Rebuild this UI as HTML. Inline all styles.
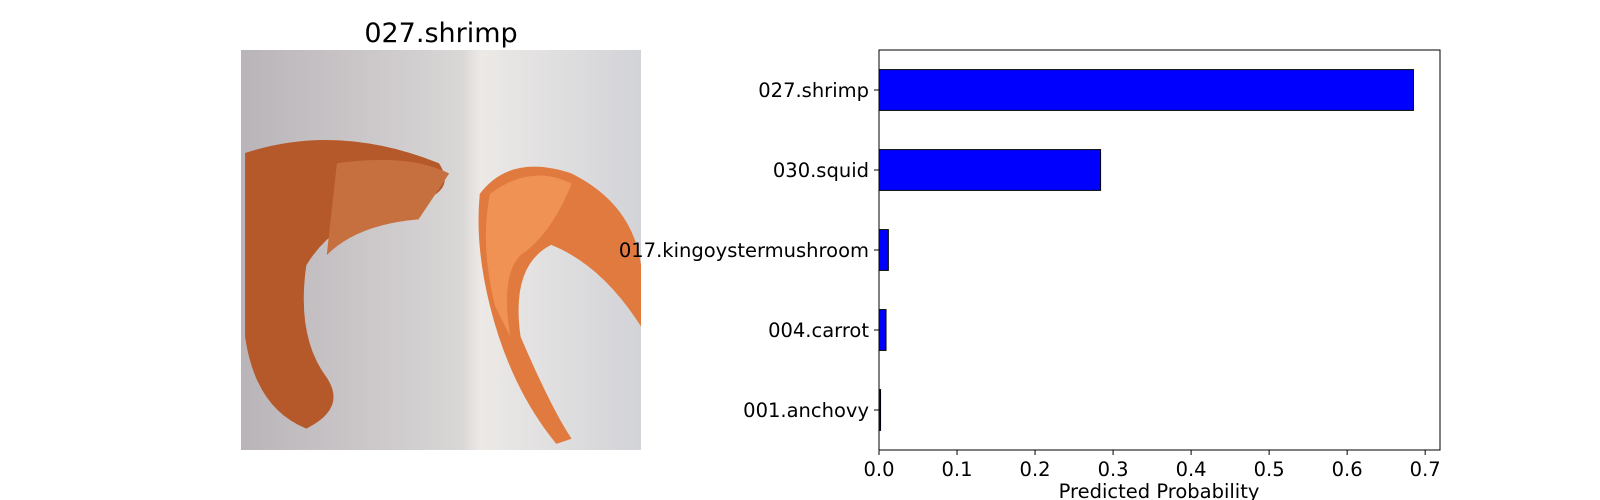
<!DOCTYPE html>
<html><head><meta charset="utf-8">
<style>
body{margin:0;background:#fff;}
svg{display:block;font-family:"DejaVu Sans","Liberation Sans",sans-serif;}
</style></head>
<body>
<svg id="chart" width="1600" height="500" viewBox="0 0 1600 500" xmlns="http://www.w3.org/2000/svg">
  <text x="441" y="42" font-size="27" text-anchor="middle">027.shrimp</text>
  <g>
    <defs>
      <linearGradient id="bg" x1="0" x2="1" y1="0" y2="0">
        <stop offset="0" stop-color="#b9b4b8"/><stop offset="0.55" stop-color="#d9d6d6"/><stop offset="0.6" stop-color="#ece9e6"/><stop offset="1" stop-color="#d2d3d8"/>
      </linearGradient>
    </defs>
    <g transform="translate(241,50) scale(1.0204) translate(-236,-49)">
    <rect x="236" y="49" width="392" height="392" fill="url(#bg)"/>
    <path d="M240 150 Q330 120 430 160 Q450 190 400 200 Q330 210 300 260 Q290 330 320 370 Q340 400 300 420 Q250 400 240 330 Z" fill="#b5582a"/>
    <path d="M330 160 Q400 150 440 170 L410 215 Q350 220 320 250 Z" fill="#c7703f"/>
    <path d="M470 190 Q500 150 560 170 Q620 200 628 260 L628 320 Q590 260 540 240 Q500 260 510 330 Q540 400 560 430 L545 435 Q500 380 480 300 Q465 240 470 190 Z" fill="#e07a3e"/>
    <path d="M480 190 Q520 160 560 180 Q540 230 510 250 Q490 270 500 330 L485 300 Q470 240 480 190 Z" fill="#ef9254"/>
    </g>
  </g>
  <g id="bars"></g>
  <text x="1159" y="498" font-size="19.5" text-anchor="middle">Predicted Probability</text>
</svg>
<script>
const categories=["027.shrimp","030.squid","017.kingoystermushroom","004.carrot","001.anchovy"];
const probabilities=[0.685,0.284,0.012,0.009,0.002];
const tickValues=[0,0.1,0.2,0.3,0.4,0.5,0.6,0.7];
const tickLabels=["0.0","0.1","0.2","0.3","0.4","0.5","0.6","0.7"];
const NS="http://www.w3.org/2000/svg";
const L=879,R=1440,T=50,B=450,xmax=0.719;
const xs=v=>L+v/xmax*(R-L);
const band=(B-T)/categories.length;
const ys=i=>T+band*(i+0.5);
const g=document.getElementById('bars');
function mk(tag,a){const e=document.createElementNS(NS,tag);for(const k in a)e.setAttribute(k,a[k]);g.appendChild(e);return e;}
categories.forEach((c,i)=>{
  const r=mk('rect',{x:xs(0),y:ys(i)-20.4,width:xs(probabilities[i])-xs(0),height:40.8,fill:'#0000ff',stroke:'#000','stroke-width':1});
  
  
  const tk=mk('line',{x1:L-5,x2:L,y1:ys(i),y2:ys(i),stroke:'#000'});
  
  
  const t=mk('text',{x:L-10,y:ys(i)+7,'font-size':19.5,'text-anchor':'end'});
  t.textContent=c;
  
  
});
tickValues.forEach((v,i)=>{
  const tk=mk('line',{x1:xs(v),x2:xs(v),y1:B,y2:B+5,stroke:'#000'});
  
  
  const t=mk('text',{x:xs(v),y:B+26,'font-size':19.5,'text-anchor':'middle'});
  t.textContent=tickLabels[i];
  
  
});
const fr=mk('rect',{x:L,y:T,width:R-L,height:B-T,fill:'none',stroke:'#000','stroke-width':1});


</script>
</body></html>
